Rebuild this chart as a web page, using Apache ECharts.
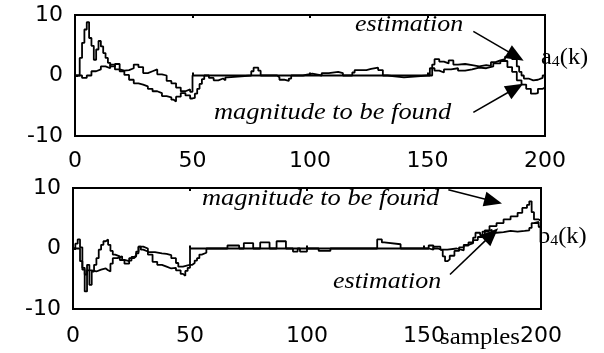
<!DOCTYPE html>
<html>
<head>
<meta charset="utf-8">
<script src="https://cdn.jsdelivr.net/npm/echarts/dist/echarts.min.js"></script>
<style>
  html, body { margin: 0; padding: 0; background: #fff; }
  #chart { width: 604px; height: 353px; }
</style>
</head>
<body>
<div id="chart"></div>
<script>
// samples on the x axis, tick values
var xTicks = [0, 50, 100, 150, 200];
var yTicks = [-10, 0, 10];

// a4(k): magnitude to be found
var topTrueX = [0, 3, 5, 7, 9, 11, 13, 15, 17, 19, 21, 23, 25, 27, 29, 31, 33, 35, 37, 39, 41, 43, 45, 47, 49, 50,
    150, 151, 153, 155, 157, 160, 163, 166, 169, 172, 175, 178, 181, 184, 186, 188, 190, 192, 194, 196, 197, 199, 200];
var topTrueY = [0, -0.4, 0, 0.7, 1.0, 1.5, 1.2, 1.8, 1.0, 0.8, 0.9, 1.2, 1.8, 1.4, 0.4, 0.7, 1.0, 0.2, 0, -0.9, -1.3, -2.0, -2.6, -2.3, -2.7, 0,
    0, 1.2, 0.8, 0.5, 1.0, 1.2, 0.8, 1.0, 1.3, 1.2, 1.5, 2.0, 2.4, 1.4, 0.6, -0.8, -1.5, -2.2, -3.0, -2.9, -2.2, -2.0, -2.0];

// a4(k): estimation
var topEstX = [0, 2, 3, 4, 5, 6, 7, 8, 9, 10, 11, 12, 13, 14, 15, 17, 19, 21, 23, 25, 27, 29, 31, 33, 35, 37, 39, 41, 42, 43, 45, 47, 49, 50,
    51, 52, 53, 54, 55, 57, 59, 61, 63, 64, 65, 75, 76, 78, 79, 86, 87, 89, 91, 92, 97, 101, 105, 108, 112, 114, 118, 119, 124, 126, 129, 131, 133, 140,
    150, 152, 153, 155, 157, 159, 161, 163, 166, 169, 172, 175, 177, 179, 181, 183, 185, 186, 188, 189, 190, 191, 193, 195, 197, 199, 200];
var topEstY = [0, 2.9, 5.4, 7.6, 8.8, 6.2, 4.9, 2.6, 4.3, 5.7, 4.8, 3.7, 2.9, 2.1, 1.5, 1.9, 0.7, 0.1, -0.7, -1.3, -1.5, -1.8, -2.2, -2.6, -2.9, -3.4, -3.6, -4.0, -4.3, -3.5, -2.9, -3.3, -3.8, -3.7,
    -3.0, -2.2, -1.4, -0.6, 0, -0.4, -0.8, -0.5, -0.8, -0.3, 0, 0.7, 1.3, 0.8, 0, -0.3, -0.7, -0.9, -0.5, 0, 0.3, 0, 0.4, 0.6, 0.4, 0, 0.5, 0.9, 1.1, 1.3, 0.9, 0, -0.3, 0,
    0, 1.8, 2.7, 2.3, 2.0, 2.5, 1.8, 1.9, 1.7, 1.5, 1.7, 1.6, 2.2, 2.5, 2.7, 3.1, 3.4, 2.7, 1.5, 0.6, 0, -0.5, -0.8, -0.7, -0.4, 0, 0];

// b4(k): magnitude to be found
var bottomTrueX = [0, 2, 3, 4, 5, 6, 8, 10, 12, 14, 15, 16, 17, 19, 21, 22, 24, 26, 27, 28, 30, 32, 35, 38, 40, 42, 44, 45, 47, 49, 50,
    150, 152, 154, 156, 158, 159, 160, 161, 163, 165, 167, 169, 171, 172, 174, 176, 178, 181, 184, 187, 190, 192, 194, 195, 196, 197, 199, 200];
var bottomTrueY = [0, 0, -2.1, -3.2, -4.3, -3.6, -3.8, -3.5, -3.3, -3.6, -3.8, -2.5, -1.6, -1.3, -1.9, -2.1, -1.6, -1.3, -0.5, 0.3, 0, -0.6, -0.8, -0.9, -1.1, -1.6, -2.4, -3.0, -2.8, -2.7, 0,
    0, 0.5, 0, -0.3, -1.3, -2.1, -1.8, -1.2, -0.4, 0.2, 0.6, 0.9, 1.8, 2.6, 2.2, 3.0, 3.7, 4.2, 4.8, 5.3, 5.9, 6.7, 7.2, 7.8, 6.0, 4.8, 4.6, 4.6];

// b4(k): estimation
var bottomEstX = [0, 1, 2, 3, 4, 5, 6, 7, 8, 9, 10, 11, 12, 13, 14, 15, 16, 17, 18, 20, 22, 24, 25, 26, 27, 28, 29, 30, 32, 34, 36, 38, 40, 42, 44, 46, 47, 48, 49, 50,
    51, 52, 53, 54, 55, 57, 66, 71, 73, 77, 80, 84, 87, 91, 94, 96, 97, 100, 105, 110, 130, 132, 133, 140,
    150, 152, 154, 157, 160, 164, 167, 169, 171, 173, 175, 177, 179, 181, 184, 187, 190, 193, 195, 196, 197, 199, 200];
var bottomEstY = [0, 0.8, 1.5, 0.2, -3.5, -7.1, -2.7, -6.0, -3.8, -2.7, -1.6, -0.2, 0.6, 1.2, 1.5, 0.6, -0.4, -1.0, -1.3, -1.9, -2.5, -2.0, -1.4, -1.2, -0.8, 0.3, -0.2, -0.5, -1.0, -2.2, -2.7, -3.0, -3.3, -3.2, -3.6, -4.2, -4.5, -3.7, -3.2, -2.7,
    -2.4, -2.0, -1.6, -1.0, -0.7, 0, 0.5, 0, 0.9, 0, 1.0, 0, 1.2, 0, -0.5, 0, -0.5, 0, -0.4, 0, 1.5, 1.0, 0.7, 0,
    0, -0.2, 0.3, -0.2, 0, -0.3, 0.5, 1.0, 1.4, 1.9, 2.8, 3.1, 2.6, 2.7, 2.9, 2.8, 2.9, 3.0, 3.4, 4.2, 4.4, 3.6, 3.6];

// arrow annotations (from, to) in sample / value units
var topArrows = [[[169.5, 7.3], [187.6, 3.2]], [[169.5, -6.1], [187.4, -2.1]]];
var bottomArrows = [[[160.4, 9.7], [179.6, 7.8]], [[161.1, -4.3], [178.9, 2.3]]];

function zip(xs, ys) {
    var out = [];
    for (var i = 0; i < xs.length; i++) out.push([xs[i], ys[i]]);
    return out;
}

function arrowLines(list) {
    return list.map(function (a) {
        return [{ coord: a[0] }, { coord: a[1] }];
    });
}

var numFont = { color: '#000', fontSize: 22, fontFamily: 'DejaVu Sans' };

function xAx(grid, bottomMargin) {
    return {
        gridIndex: grid, type: 'value', min: xTicks[0], max: xTicks[xTicks.length - 1], interval: 50,
        axisLine: { show: false },
        axisTick: { show: true, inside: true, length: 3, lineStyle: { color: '#000', width: 2 } },
        axisLabel: Object.assign({ margin: bottomMargin, showMinLabel: true, showMaxLabel: true }, numFont),
        splitLine: { show: false }
    };
}
function xAxTop(grid) {
    return {
        gridIndex: grid, type: 'value', position: 'top', min: 0, max: 200, interval: 50,
        axisLine: { show: false },
        axisTick: { show: true, inside: true, length: 3, lineStyle: { color: '#000', width: 2 } },
        axisLabel: { show: false }, splitLine: { show: false }
    };
}
function yAx(grid, margin) {
    return {
        gridIndex: grid, type: 'value', min: yTicks[0], max: yTicks[yTicks.length - 1], interval: 10,
        axisLine: { show: false },
        axisTick: { show: true, inside: true, length: 3, lineStyle: { color: '#000', width: 2 } },
        axisLabel: Object.assign({ margin: margin }, numFont),
        splitLine: { show: false }
    };
}

function stairs(xi, yi, data, arrows) {
    var s = {
        type: 'line', xAxisIndex: xi, yAxisIndex: yi, data: data, step: 'end',
        showSymbol: false, symbol: 'none', silent: true,
        lineStyle: { color: '#000', width: 1.8 }
    };
    if (arrows) {
        s.markLine = {
            silent: true, symbol: ['none', 'triangle'], symbolSize: [15, 18],
            label: { show: false },
            lineStyle: { color: '#000', width: 1.6, type: 'solid' },
            data: arrowLines(arrows)
        };
    }
    return s;
}

var serif = 'Liberation Serif, Times New Roman, serif';
function note(text, x, y, italic, sx) {
    return {
        type: 'text', x: x, y: y, scaleX: sx, silent: true,
        style: {
            text: text, fill: '#000', fontSize: 23, fontFamily: serif,
            fontStyle: italic ? 'italic' : 'normal', verticalAlign: 'middle', align: 'left'
        }
    };
}
function subNote(letter, x, y) {
    return {
        type: 'text', x: x, y: y, scaleX: 1.06, silent: true,
        style: {
            text: '{a|' + letter + '}{s|4}{a|(k)}', fill: '#000', verticalAlign: 'middle', align: 'left',
            rich: {
                a: { fontSize: 23, fontFamily: serif, fill: '#000' },
                s: { fontSize: 15, fontFamily: serif, fill: '#000', padding: [10, 0, 0, 0] }
            }
        }
    };
}

var chart = echarts.init(document.getElementById('chart'), null, { renderer: 'canvas' });
chart.setOption({
    animation: false,
    backgroundColor: '#fff',
    grid: [
        { left: 75, top: 15, width: 470, height: 121, show: true, borderColor: '#000', borderWidth: 2 },
        { left: 73, top: 188, width: 468, height: 121, show: true, borderColor: '#000', borderWidth: 2 }
    ],
    xAxis: [xAx(0, 14), xAx(1, 16), xAxTop(0), xAxTop(1)],
    yAxis: [yAx(0, 12), yAx(1, 12)],
    series: [
        stairs(0, 0, zip(topTrueX, topTrueY), topArrows),
        stairs(0, 0, zip(topEstX, topEstY)),
        stairs(1, 1, zip(bottomTrueX, bottomTrueY), bottomArrows),
        stairs(1, 1, zip(bottomEstX, bottomEstY))
    ],
    graphic: [
        note('estimation', 355, 24.5, true, 1.13),
        note('magnitude to be found', 214, 112.5, true, 1.15),
        note('magnitude to be found', 202, 198.5, true, 1.15),
        note('estimation', 333, 281.5, true, 1.13),
        note('samples', 440, 337.5, false, 1.08),
        subNote('a', 541, 57.5),
        subNote('b', 538, 236.5)
    ]
});
</script>
</body>
</html>
